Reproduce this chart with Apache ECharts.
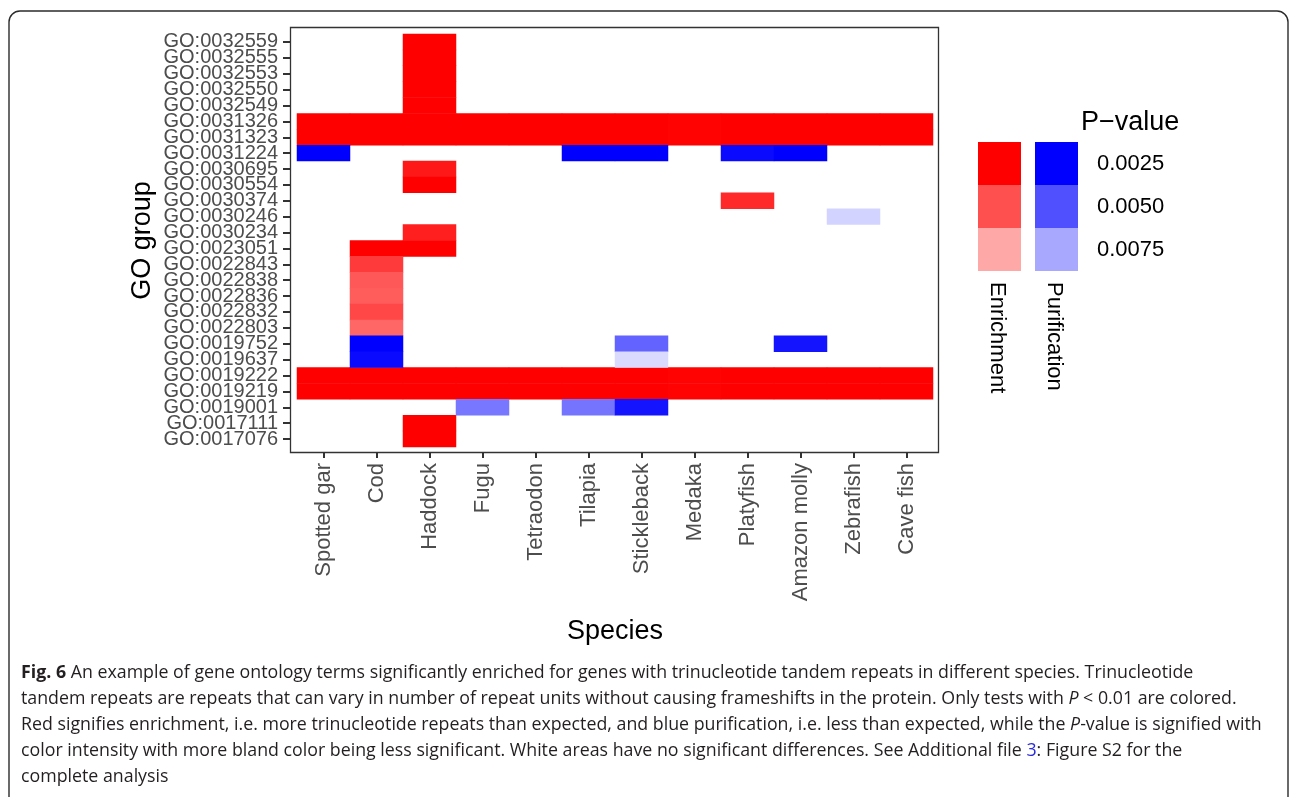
<!DOCTYPE html>
<html><head><meta charset="utf-8">
<script src="https://cdn.jsdelivr.net/npm/echarts@6/dist/echarts.min.js"></script>
<style>html,body{margin:0;padding:0;background:#fff}#c{width:1290px;height:797px}</style>
</head><body><div id="c"></div>
<script>
const species = ['Spotted gar','Cod','Haddock','Fugu','Tetraodon','Tilapia','Stickleback','Medaka','Platyfish','Amazon molly','Zebrafish','Cave fish'];
const goTerms = ['GO:0032559','GO:0032555','GO:0032553','GO:0032550','GO:0032549','GO:0031326','GO:0031323','GO:0031224','GO:0030695','GO:0030554','GO:0030374','GO:0030246','GO:0030234','GO:0023051','GO:0022843','GO:0022838','GO:0022836','GO:0022832','GO:0022803','GO:0019752','GO:0019637','GO:0019222','GO:0019219','GO:0019001','GO:0017111','GO:0017076'];

// [species, GO term, P-value]
const enrichment = [
  ['Haddock','GO:0032559',0.001],['Haddock','GO:0032555',0.001],['Haddock','GO:0032553',0.001],
  ['Haddock','GO:0032550',0.001],['Haddock','GO:0032549',0.001],
  ['Spotted gar','GO:0031326',0.001],['Cod','GO:0031326',0.001],['Haddock','GO:0031326',0.001],['Fugu','GO:0031326',0.001],
  ['Tetraodon','GO:0031326',0.001],['Tilapia','GO:0031326',0.001],['Stickleback','GO:0031326',0.001],['Medaka','GO:0031326',0.0026],
  ['Platyfish','GO:0031326',0.001],['Amazon molly','GO:0031326',0.001],['Zebrafish','GO:0031326',0.001],['Cave fish','GO:0031326',0.001],
  ['Spotted gar','GO:0031323',0.001],['Cod','GO:0031323',0.001],['Haddock','GO:0031323',0.001],['Fugu','GO:0031323',0.001],
  ['Tetraodon','GO:0031323',0.001],['Tilapia','GO:0031323',0.001],['Stickleback','GO:0031323',0.001],['Medaka','GO:0031323',0.0026],
  ['Platyfish','GO:0031323',0.001],['Amazon molly','GO:0031323',0.001],['Zebrafish','GO:0031323',0.001],['Cave fish','GO:0031323',0.001],
  ['Haddock','GO:0030695',0.0032],['Haddock','GO:0030554',0.001],
  ['Platyfish','GO:0030374',0.0037],
  ['Haddock','GO:0030234',0.0034],
  ['Cod','GO:0023051',0.001],['Haddock','GO:0023051',0.001],
  ['Cod','GO:0022843',0.0042],['Cod','GO:0022838',0.0051],['Cod','GO:0022836',0.0052],
  ['Cod','GO:0022832',0.0046],['Cod','GO:0022803',0.0055],
  ['Spotted gar','GO:0019222',0.001],['Cod','GO:0019222',0.001],['Haddock','GO:0019222',0.001],['Fugu','GO:0019222',0.001],
  ['Tetraodon','GO:0019222',0.001],['Tilapia','GO:0019222',0.001],['Stickleback','GO:0019222',0.001],['Medaka','GO:0019222',0.0026],
  ['Platyfish','GO:0019222',0.001],['Amazon molly','GO:0019222',0.001],['Zebrafish','GO:0019222',0.001],['Cave fish','GO:0019222',0.001],
  ['Spotted gar','GO:0019219',0.001],['Cod','GO:0019219',0.001],['Haddock','GO:0019219',0.001],['Fugu','GO:0019219',0.001],
  ['Tetraodon','GO:0019219',0.001],['Tilapia','GO:0019219',0.001],['Stickleback','GO:0019219',0.001],['Medaka','GO:0019219',0.0026],
  ['Platyfish','GO:0019219',0.001],['Amazon molly','GO:0019219',0.001],['Zebrafish','GO:0019219',0.001],['Cave fish','GO:0019219',0.001],
  ['Haddock','GO:0017111',0.001],['Haddock','GO:0017076',0.001]
];
const purification = [
  ['Spotted gar','GO:0031224',0.001],['Tilapia','GO:0031224',0.001],['Stickleback','GO:0031224',0.001],
  ['Platyfish','GO:0031224',0.0028],['Amazon molly','GO:0031224',0.001],
  ['Zebrafish','GO:0030246',0.0087],
  ['Cod','GO:0019752',0.001],['Stickleback','GO:0019752',0.0054],['Amazon molly','GO:0019752',0.0031],
  ['Cod','GO:0019637',0.0028],['Stickleback','GO:0019637',0.0089],
  ['Fugu','GO:0019001',0.006],['Tilapia','GO:0019001',0.0059],['Stickleback','GO:0019001',0.0031]
];
const legendLabels = ['0.0025','0.0050','0.0075'];
const legendBreaks = [0, 0.00375, 0.00625, 0.01];

const FONT = '"Liberation Sans", Arial, Helvetica, sans-serif';
const CAP = '"Open Sans", "Noto Sans", sans-serif';
const CAPSIZE = 17.8;

function pieces(colors, withLabels) {
  return legendLabels.map((l, i) => ({min: legendBreaks[i], max: legendBreaks[i+1], label: withLabels ? l : '', color: colors[i]}));
}

const chart = echarts.init(document.getElementById('c'), null, {renderer: 'canvas'});
const capLines = [
  '{b|Fig. 6} An example of gene ontology terms significantly enriched for genes with trinucleotide tandem repeats in different species. Trinucleotide',
  'tandem repeats are repeats that can vary in number of repeat units without causing frameshifts in the protein. Only tests with {i|P} < 0.01 are colored.',
  'Red signifies enrichment, i.e. more trinucleotide repeats than expected, and blue purification, i.e. less than expected, while the {i|P}-value is signified with',
  'color intensity with more bland color being less significant. White areas have no significant differences. See Additional file {l|3}: Figure S2 for the',
  'complete analysis'
];
const capRich = {
  b: {fontWeight: 'bold', fontFamily: CAP, fontSize: CAPSIZE, fill: '#231f20'},
  i: {fontStyle: 'italic', fontFamily: CAP, fontSize: CAPSIZE, fill: '#231f20'},
  l: {fontFamily: CAP, fontSize: CAPSIZE, fill: '#2a2ad8'}
};

const graphics = [
  {type: 'rect', shape: {x: 9, y: 11, width: 1279, height: 830, r: 11}, style: {fill: 'none', stroke: '#2b2b2b', lineWidth: 1.4}, silent: true, z: 0},
  {type: 'rect', shape: {x: 290.5, y: 27.5, width: 648, height: 425}, style: {fill: 'none', stroke: '#333', lineWidth: 1.3}, silent: true, z: 50},
  {type: 'text', style: {x: 1081, y: 123, text: 'P\u2212value', fontFamily: FONT, fontSize: 27, fill: '#000', verticalAlign: 'middle'}, silent: true},
  {type: 'text', rotation: -Math.PI/2, x: 997, y: 282, style: {x: 0, y: 0, text: 'Enrichment', fontFamily: FONT, fontSize: 22, fill: '#000', verticalAlign: 'middle', align: 'left'}, silent: true},
  {type: 'text', rotation: -Math.PI/2, x: 1054, y: 282, style: {x: 0, y: 0, text: 'Purification', fontFamily: FONT, fontSize: 22, fill: '#000', verticalAlign: 'middle', align: 'left'}, silent: true}
];
capLines.forEach((t, i) => {
  graphics.push({type: 'text', silent: true, style: {x: 21, y: 673 + i * 26, text: t, fontFamily: CAP, fontSize: CAPSIZE, fill: '#231f20', verticalAlign: 'middle', rich: capRich}});
});

chart.setOption({
  animation: false,
  backgroundColor: '#fff',
  grid: {left: 297, right: 357, top: 34, bottom: 350, containLabel: false},
  xAxis: {
    type: 'category', data: species, offset: 5,
    name: 'Species', nameLocation: 'middle', nameGap: 166,
    nameTextStyle: {fontFamily: FONT, fontSize: 27, color: '#000'},
    axisLine: {show: false},
    axisTick: {show: true, alignWithLabel: true, length: 6, lineStyle: {color: '#333', width: 2}},
    axisLabel: {interval: 0, rotate: 90, margin: 11, fontFamily: FONT, fontSize: 22, color: '#4d4d4d'},
    splitLine: {show: false}
  },
  yAxis: {
    type: 'category', data: goTerms, inverse: true, offset: 7,
    name: 'GO group', nameLocation: 'middle', nameGap: 134, nameRotate: 90,
    nameTextStyle: {fontFamily: FONT, fontSize: 27, color: '#000'},
    axisLine: {show: false},
    axisTick: {show: true, alignWithLabel: true, length: 7, lineStyle: {color: '#333', width: 2}},
    axisLabel: {interval: 0, margin: 12, fontFamily: FONT, fontSize: 20, color: '#4d4d4d'},
    splitLine: {show: false}
  },
  visualMap: [
    {type: 'continuous', show: false, seriesIndex: 0, dimension: 2, min: 0, max: 0.01,
     inRange: {color: ['#ff0000', '#ff0000', '#ff5555', '#ffaaaa', '#ffffff']}},
    {type: 'continuous', show: false, seriesIndex: 1, dimension: 2, min: 0, max: 0.01,
     inRange: {color: ['#0000ff', '#0000ff', '#5555ff', '#aaaaff', '#ffffff']}},
    {type: 'piecewise', seriesIndex: 2, left: 978, top: 142, padding: 0, itemGap: 0, itemWidth: 43, itemHeight: 43,
     itemSymbol: 'rect', inverse: true, selectedMode: false, showLabel: false, align: 'left',
     pieces: pieces(['#ff0000', '#ff5050', '#ffa8a8'], false)},
    {type: 'piecewise', seriesIndex: 3, left: 1035, top: 142, padding: 0, itemGap: 0, itemWidth: 43, itemHeight: 43,
     itemSymbol: 'rect', inverse: true, selectedMode: false, textGap: 19, align: 'left',
     textStyle: {fontFamily: FONT, fontSize: 22, color: '#000'},
     pieces: pieces(['#0000ff', '#5050ff', '#a8a8ff'], true)}
  ],
  series: [
    {type: 'heatmap', name: 'Enrichment', data: enrichment, itemStyle: {borderWidth: 0}, emphasis: {disabled: true}, z: 2},
    {type: 'heatmap', name: 'Purification', data: purification, itemStyle: {borderWidth: 0}, emphasis: {disabled: true}, z: 3},
    {type: 'heatmap', name: 'legE', data: []},
    {type: 'heatmap', name: 'legP', data: []}
  ],
  graphic: graphics
});
</script></body></html>
